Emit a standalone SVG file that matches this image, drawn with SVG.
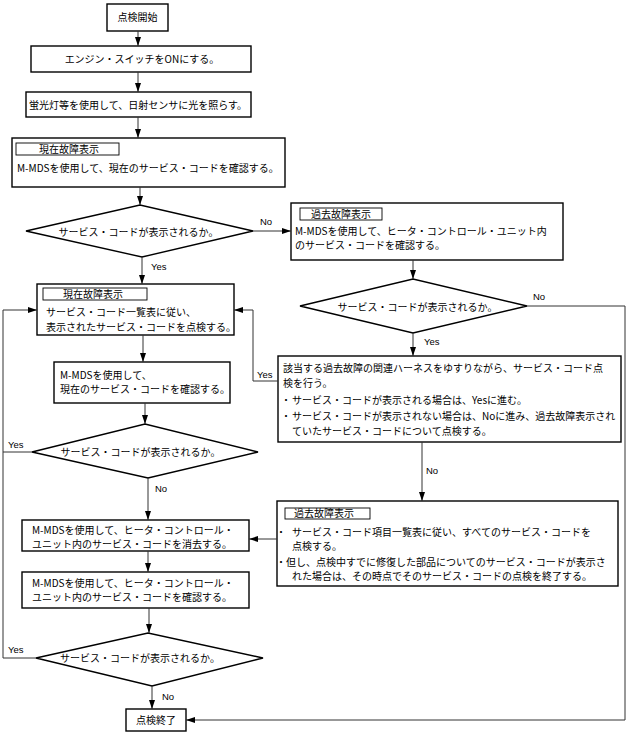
<svg xmlns="http://www.w3.org/2000/svg" width="627" height="737" viewBox="0 0 627 737">
<style>
.box{fill:#fff;stroke:#000;stroke-width:1.4}
.lbl{fill:#fff;stroke:#000;stroke-width:0.9}
.t{font-family:"Noto Sans CJK JP","Noto Sans CJK SC",sans-serif;font-size:10px;fill:#000}
.c{text-anchor:middle}
.yn{font-family:"Liberation Sans",Arial,sans-serif;font-size:9.5px;fill:#000}
.ln{fill:none;stroke:#333;stroke-width:1}
</style>
<defs>
<marker id="ah" viewBox="0 0 9 6" refX="9" refY="3" markerWidth="9" markerHeight="6" orient="auto" markerUnits="userSpaceOnUse" preserveAspectRatio="none"><path d="M0,0 L9,3 L0,6 z" fill="#000"/></marker>
</defs>
<rect width="627" height="737" fill="#fff"/>

<g id="start"><rect class="box" x="107" y="4" width="61" height="27"/><text class="t c" x="137.5" y="21">点検開始</text></g>
<g id="engine"><rect class="box" x="31" y="46" width="220" height="26"/><text class="t c" x="142" y="62.5">エンジン・スイッチをONにする。</text></g>
<g id="light"><rect class="box" x="26" y="92" width="225" height="25"/><text class="t c" x="138" y="108.5">蛍光灯等を使用して、日射センサに光を照らす。</text></g>
<g id="current1"><rect class="box" x="12" y="138" width="273" height="49"/><rect class="lbl" x="16" y="143" width="103" height="12"/><text class="t c" x="69" y="152.5">現在故障表示</text><text class="t" x="17" y="171.5">M-MDSを使用して、現在のサービス・コードを確認する。</text></g>
<g id="dec1"><polygon class="box" points="26,231 140,205 253,231 142,257"/><text class="t c" x="138.5" y="235.5">サービス・コードが表示されるか。</text></g>
<g id="past1"><rect class="box" x="291" y="203" width="272" height="57"/><rect class="lbl" x="300" y="208" width="82" height="12"/><text class="t c" x="341" y="217.5">過去故障表示</text><text class="t" x="295" y="234.5">M-MDSを使用して、ヒータ・コントロール・ユニット内</text><text class="t" x="295" y="248.5">のサービス・コードを確認する。</text></g>
<g id="dec2"><polygon class="box" points="300,306 413,279 527,306 413,333"/><text class="t c" x="417.5" y="310.5">サービス・コードが表示されるか。</text></g>
<g id="shake"><rect class="box" x="278" y="356" width="343" height="86"/><text class="t" x="283" y="371.5">該当する過去故障の関連ハーネスをゆすりながら、サービス・コード点</text><text class="t" x="283" y="386.5">検を行う。</text><text class="t" x="281" y="403.5">・</text><text class="t" x="292" y="403.5">サービス・コードが表示される場合は、Yesに進む。</text><text class="t" x="281" y="419.5">・</text><text class="t" x="292" y="419.5">サービス・コードが表示されない場合は、Noに進み、過去故障表示され</text><text class="t" x="292" y="434.5">ていたサービス・コードについて点検する。</text></g>
<g id="current2"><rect class="box" x="37" y="284" width="197" height="51"/><rect class="lbl" x="43" y="288" width="104" height="12"/><text class="t c" x="93" y="297.5">現在故障表示</text><text class="t" x="46" y="315.5">サービス・コード一覧表に従い、</text><text class="t" x="46" y="330.5">表示されたサービス・コードを点検する。</text></g>
<g id="confirmCurrent"><rect class="box" x="54" y="362" width="176" height="41"/><text class="t" x="60" y="378.5">M-MDSを使用して、</text><text class="t" x="60" y="392.5">現在のサービス・コードを確認する。</text></g>
<g id="dec3"><polygon class="box" points="32,452 145,424 258,452 148,478"/><text class="t c" x="140.5" y="455.5">サービス・コードが表示されるか。</text></g>
<g id="erase"><rect class="box" x="22" y="520" width="227" height="31"/><text class="t" x="32" y="533.5">M-MDSを使用して、ヒータ・コントロール・</text><text class="t" x="32" y="547.5">ユニット内のサービス・コードを消去する。</text></g>
<g id="past2"><rect class="box" x="277" y="501" width="341" height="85"/><rect class="lbl" x="285" y="508" width="85" height="11"/><text class="t c" x="324" y="517">過去故障表示</text><text class="t" x="276" y="535.5">・</text><text class="t" x="292" y="535.5">サービス・コード項目一覧表に従い、すべてのサービス・コードを</text><text class="t" x="292" y="549.5">点検する。</text><text class="t" x="276" y="565.5">・但し、点検中すでに修復した部品についてのサービス・コードが表示さ</text><text class="t" x="292" y="579.5">れた場合は、その時点でそのサービス・コードの点検を終了する。</text></g>
<g id="confirmPast"><rect class="box" x="22" y="572" width="227" height="36"/><text class="t" x="32" y="586.5">M-MDSを使用して、ヒータ・コントロール・</text><text class="t" x="32" y="600.5">ユニット内のサービス・コードを確認する。</text></g>
<g id="dec4"><polygon class="box" points="36,658 148,633 263,658 152,686"/><text class="t c" x="140" y="661.5">サービス・コードが表示されるか。</text></g>
<g id="end"><rect class="box" x="126" y="709" width="60" height="22"/><text class="t c" x="156" y="723.5">点検終了</text></g>

<g id="connectors">
<path class="ln" d="M138,31 V46" marker-end="url(#ah)"/>
<path class="ln" d="M138,72 V92" marker-end="url(#ah)"/>
<path class="ln" d="M138,117 V138" marker-end="url(#ah)"/>
<path class="ln" d="M140,187 V205" marker-end="url(#ah)"/>
<path class="ln" d="M253,231 H291" marker-end="url(#ah)"/>
<path class="ln" d="M142,257 V284" marker-end="url(#ah)"/>
<path class="ln" d="M413,260 V279" marker-end="url(#ah)"/>
<path class="ln" d="M527,306 H625 V720 H186" marker-end="url(#ah)"/>
<path class="ln" d="M413,333 V356" marker-end="url(#ah)"/>
<path class="ln" d="M278,381 H253 V310 H234" marker-end="url(#ah)"/>
<path class="ln" d="M422,442 V501" marker-end="url(#ah)"/>
<path class="ln" d="M143,335 V362" marker-end="url(#ah)"/>
<path class="ln" d="M145,403 V424" marker-end="url(#ah)"/>
<path class="ln" d="M148,478 V520" marker-end="url(#ah)"/>
<path class="ln" d="M32,452 H3"/>
<path class="ln" d="M36,658 H3 V310 H37" marker-end="url(#ah)"/>
<path class="ln" d="M277,539 H249" marker-end="url(#ah)"/>
<path class="ln" d="M148,551 V572" marker-end="url(#ah)"/>
<path class="ln" d="M149,608 V633" marker-end="url(#ah)"/>
<path class="ln" d="M152,686 V709" marker-end="url(#ah)"/>
<text class="yn" x="260" y="224.5">No</text>
<text class="yn" x="151" y="269.5">Yes</text>
<text class="yn" x="533" y="300">No</text>
<text class="yn" x="424" y="345">Yes</text>
<text class="yn" x="257" y="378">Yes</text>
<text class="yn" x="426" y="473.5">No</text>
<text class="yn" x="8" y="447.5">Yes</text>
<text class="yn" x="155" y="491.5">No</text>
<text class="yn" x="8" y="653">Yes</text>
<text class="yn" x="162" y="699.5">No</text>
</g>
</svg>
